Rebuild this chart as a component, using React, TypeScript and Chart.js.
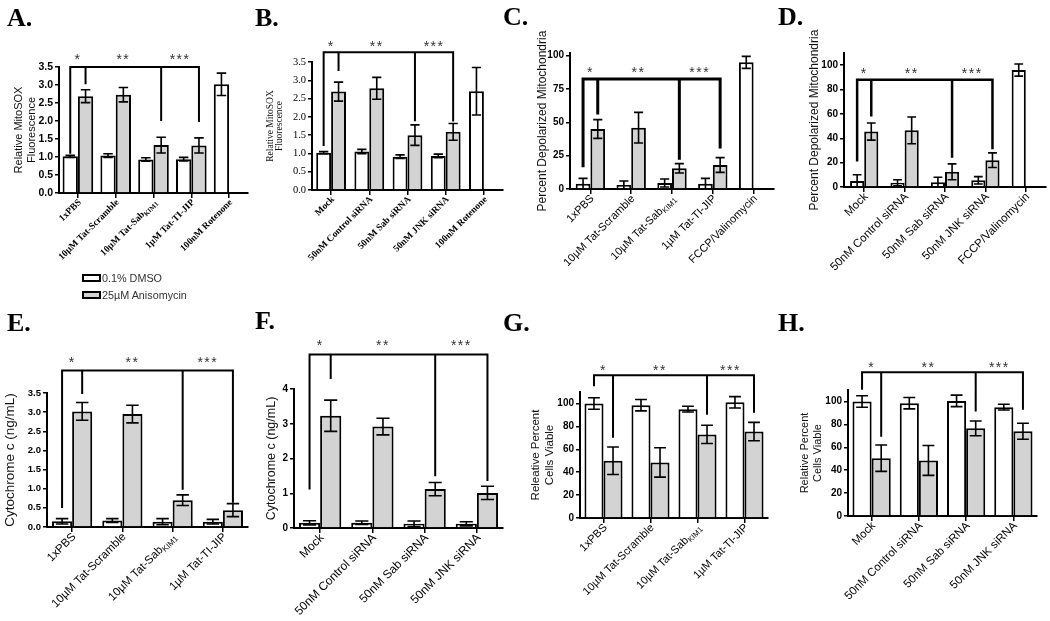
import { useEffect, useRef } from 'react';
import { Chart, registerables } from 'chart.js';

Chart.register(...registerables);

const SANS = '"Liberation Sans", Arial, Helvetica, sans-serif';
const SERIF = '"Liberation Serif", "Times New Roman", Times, serif';
const GREY = '#d3d3d3';

const seriesNames = ['0.1% DMSO', '25µM Anisomycin'];
const stars = ['*', '**', '***'];

// ---------- Panel A ----------
const catsA = ['1xPBS', '10µM Tat-Scramble', '10µM Tat-Sab_KIM1', '1µM Tat-TI-JIP', '100nM Rotenone'];
const dmsoA = [1.02, 1.04, 0.93, 0.94, 3.02];
const dmsoErrA = [0.03, 0.05, 0.05, 0.05, 0.31];
const anisoA = [2.69, 2.73, 1.33, 1.32, null];
const anisoErrA = [0.18, 0.2, 0.22, 0.21, null];
const sigA = [3.5, 3.75];
const dropsA = [1.12, 3.05, 2.03, 2.0];
const yTicksA = [0, 0.5, 1, 1.5, 2, 2.5, 3, 3.5];

// ---------- Panel B ----------
const catsB = ['Mock', '50nM Control siRNA', '50nM Sab siRNA', '50nM JNK siRNA', '100nM Rotenone'];
const dmsoB = [1.02, 1.05, 0.91, 0.93, 2.7];
const dmsoErrB = [0.03, 0.06, 0.05, 0.05, 0.65];
const anisoB = [2.69, 2.78, 1.5, 1.59, null];
const anisoErrB = [0.26, 0.3, 0.28, 0.23, null];
const sigB = [3.77, 3.96];
const dropsB = [1.23, 3.28, 1.91, 1.9];
const yTicksB = [0, 0.5, 1, 1.5, 2, 2.5, 3, 3.5];

// ---------- Panel C ----------
const catsC = ['1xPBS', '10µM Tat-Scramble', '10µM Tat-Sab_KIM1', '1µM Tat-TI-JIP', 'FCCP/Valinomycin'];
const dmsoC = [4, 3, 4.5, 4, 95];
const dmsoErrC = [4, 3, 3, 4, 4.5];
const anisoC = [45, 46, 15.5, 18, null];
const anisoErrC = [7, 11.5, 3.5, 5.5, null];
const sigC = [82.5, 88.5];
const dropsC = [17.5, 57, 23, 31.5];
const yTicksC = [0, 25, 50, 75, 100];

// ---------- Panel D ----------
const catsD = ['Mock', '50nM Control siRNA', '50nM Sab siRNA', '50nM JNK siRNA', 'FCCP/Valinomycin'];
const dmsoD = [5, 3.5, 4, 5.5, 96];
const dmsoErrD = [5, 2.5, 4, 3, 5];
const anisoD = [45.5, 46.5, 12.5, 22, null];
const anisoErrD = [7, 11, 6.5, 6, null];
const sigD = [88, 94];
const dropsD = [22, 59, 25, 32];
const yTicksD = [0, 20, 40, 60, 80, 100];

// ---------- Panel E ----------
const catsE = ['1xPBS', '10µM Tat-Scramble', '10µM Tat-Sab_KIM1', '1µM Tat-TI-JIP'];
const dmsoE = [0.15, 0.17, 0.14, 0.14];
const dmsoErrE = [0.07, 0.05, 0.08, 0.06];
const anisoE = [3.02, 2.95, 0.7, 0.44];
const anisoErrE = [0.23, 0.23, 0.14, 0.17];
const sigE = [4.09, 4.33];
const dropsE = [0.52, 3.5, 1.0, 0.66];
const yTicksE = [0, 0.5, 1, 1.5, 2, 2.5, 3, 3.5];

// ---------- Panel F ----------
const catsF = ['Mock', '50nM Control siRNA', '50nM Sab siRNA', '50nM JNK siRNA'];
const dmsoF = [0.15, 0.15, 0.12, 0.12];
const dmsoErrF = [0.06, 0.05, 0.08, 0.06];
const anisoF = [3.23, 2.92, 1.12, 1.01];
const anisoErrF = [0.45, 0.24, 0.19, 0.19];
const sigF = [4.99, 5.28];
const dropsF = [1.14, 4.32, 1.52, 1.38];
const yTicksF = [0, 1, 2, 3, 4];

// ---------- Panel G ----------
const catsG = ['1xPBS', '10µM Tat-Scramble', '10µM Tat-Sab_KIM1', '1µM Tat-TI-JIP'];
const dmsoG = [100, 98.5, 95, 101];
const dmsoErrG = [5, 5, 2.5, 5];
const anisoG = [50, 48.5, 73, 75.5];
const anisoErrG = [12, 12.8, 8, 8];
const sigG = [124.6, 130];
const dropsG = [116, 71, 91, 92.8];
const yTicksG = [0, 20, 40, 60, 80, 100];

// ---------- Panel H ----------
const catsH = ['Mock', '50nM Control siRNA', '50nM Sab siRNA', '50nM JNK siRNA'];
const dmsoH = [100, 98.5, 100.5, 95];
const dmsoErrH = [5, 5, 5, 2.5];
const anisoH = [50.5, 48.5, 76.5, 74];
const anisoErrH = [11.5, 13, 6.5, 7];
const sigH = [125.6, 130.5];
const dropsH = [111, 70, 92, 93.6];
const yTicksH = [0, 20, 40, 60, 80, 100];

type FontSpec = { family: string; size: number; weight?: string; lineHeight?: number };

type Panel = {
  letter: string;
  letterX: number;
  letterBase: number;
  cats: string[];
  dmso: (number | null)[];
  dmsoErr: (number | null)[];
  aniso: (number | null)[];
  anisoErr: (number | null)[];
  sig: number[];
  drops: number[];
  yTicks: number[];
  yMax: number;
  decimals: number;
  plot: [number, number, number, number];
  catPct: number;
  tickFont: FontSpec;
  titleLines: string[];
  titleFont: FontSpec;
  titleX: number;
  labelFont: FontSpec;
  bracketW: number;
};

const sansB = (size: number): FontSpec => ({ family: SANS, size, weight: 'bold' });
const sans = (size: number): FontSpec => ({ family: SANS, size, weight: 'normal' });

const panels: Panel[] = [
  {
    letter: 'A.', letterX: 7, letterBase: 27,
    cats: catsA, dmso: dmsoA, dmsoErr: dmsoErrA, aniso: anisoA, anisoErr: anisoErrA,
    sig: sigA, drops: dropsA, yTicks: yTicksA, yMax: 3.5, decimals: 1,
    plot: [59, 67, 248, 193], catPct: 0.81,
    tickFont: sansB(10.5), titleLines: ['Relative MitoSOX', 'Fluorescence'], titleFont: sans(11), titleX: 19,
    labelFont: { family: SERIF, size: 9.5, weight: 'bold' }, bracketW: 2,
  },
  {
    letter: 'B.', letterX: 255, letterBase: 27,
    cats: catsB, dmso: dmsoB, dmsoErr: dmsoErrB, aniso: anisoB, anisoErr: anisoErrB,
    sig: sigB, drops: dropsB, yTicks: yTicksB, yMax: 3.5, decimals: 1,
    plot: [312, 62, 503, 190], catPct: 0.78,
    tickFont: { family: SERIF, size: 10.5, weight: 'normal' },
    titleLines: ['Relative MitoSOX', 'Fluorescence'], titleFont: { family: SERIF, size: 9.5, weight: 'normal', lineHeight: 1.0 }, titleX: 270,
    labelFont: { family: SERIF, size: 9.5, weight: 'bold' }, bracketW: 2,
  },
  {
    letter: 'C.', letterX: 503, letterBase: 26,
    cats: catsC, dmso: dmsoC, dmsoErr: dmsoErrC, aniso: anisoC, anisoErr: anisoErrC,
    sig: sigC, drops: dropsC, yTicks: yTicksC, yMax: 102, decimals: 0,
    plot: [570, 53, 774, 189], catPct: 0.72,
    tickFont: sansB(10), titleLines: ['Percent Depolarized Mitochondria'], titleFont: sans(12), titleX: 543,
    labelFont: sans(11), bracketW: 3,
  },
  {
    letter: 'D.', letterX: 778, letterBase: 26,
    cats: catsD, dmso: dmsoD, dmsoErr: dmsoErrD, aniso: anisoD, anisoErr: anisoErrD,
    sig: sigD, drops: dropsD, yTicks: yTicksD, yMax: 110, decimals: 0,
    plot: [844, 52.5, 1046, 186.7], catPct: 0.7,
    tickFont: sansB(10), titleLines: ['Percent Depolarized Mitochondria'], titleFont: sans(12), titleX: 815,
    labelFont: sans(11.5), bracketW: 2.5,
  },
  {
    letter: 'E.', letterX: 7, letterBase: 332,
    cats: catsE, dmso: dmsoE, dmsoErr: dmsoErrE, aniso: anisoE, anisoErr: anisoErrE,
    sig: sigE, drops: dropsE, yTicks: yTicksE, yMax: 3.5, decimals: 1,
    plot: [47, 393, 248, 527], catPct: 0.8,
    tickFont: sansB(9.5), titleLines: ['Cytochrome c (ng/mL)'], titleFont: sans(13.5), titleX: 10,
    labelFont: sans(11.5), bracketW: 2,
  },
  {
    letter: 'F.', letterX: 255, letterBase: 330,
    cats: catsF, dmso: dmsoF, dmsoErr: dmsoErrF, aniso: anisoF, anisoErr: anisoErrF,
    sig: sigF, drops: dropsF, yTicks: yTicksF, yMax: 4, decimals: 0,
    plot: [294, 389, 503, 528], catPct: 0.81,
    tickFont: sansB(10), titleLines: ['Cytochrome c (ng/mL)'], titleFont: sans(12.5), titleX: 272,
    labelFont: sans(12), bracketW: 2,
  },
  {
    letter: 'G.', letterX: 503, letterBase: 332,
    cats: catsG, dmso: dmsoG, dmsoErr: dmsoErrG, aniso: anisoG, anisoErr: anisoErrG,
    sig: sigG, drops: dropsG, yTicks: yTicksG, yMax: 110, decimals: 0,
    plot: [580, 391.5, 768, 518], catPct: 0.81,
    tickFont: sansB(10), titleLines: ['Releative Percent', 'Cells Viable'], titleFont: sans(11.5), titleX: 536,
    labelFont: sans(11), bracketW: 2,
  },
  {
    letter: 'H.', letterX: 778, letterBase: 332,
    cats: catsH, dmso: dmsoH, dmsoErr: dmsoErrH, aniso: anisoH, anisoErr: anisoErrH,
    sig: sigH, drops: dropsH, yTicks: yTicksH, yMax: 110, decimals: 0,
    plot: [848, 389.5, 1037, 516], catPct: 0.81,
    tickFont: sansB(10), titleLines: ['Relative Percent', 'Cells Viable'], titleFont: sans(11), titleX: 805,
    labelFont: sans(11.5), bracketW: 2,
  },
];

function PanelChart({ p }: { p: Panel }) {
  const ref = useRef<HTMLCanvasElement>(null);
  const [L, T, R, B] = p.plot;
  const cl = Math.max(0, L - 75);
  const ct = T - 55;
  const cr = Math.min(1050, R + 12);
  const cb = B + 125;
  const lh = p.titleFont.size * (p.titleFont.lineHeight ?? 1.2);

  useEffect(() => {
    const errs = [p.dmsoErr, p.anisoErr];

    const errPlugin = {
      id: 'errbars',
      afterDatasetsDraw(chart: any) {
        const ctx = chart.ctx;
        const y = chart.scales.y;
        ctx.save();
        ctx.strokeStyle = '#000';
        ctx.lineWidth = 1.6;
        chart.data.datasets.forEach((ds: any, d: number) => {
          const meta = chart.getDatasetMeta(d);
          meta.data.forEach((el: any, i: number) => {
            const v = ds.data[i];
            const e = errs[d][i];
            if (v == null || e == null) return;
            const x = el.x;
            const half = (el.width * 0.62) / 2;
            const yt = y.getPixelForValue(v + e);
            const yb = y.getPixelForValue(Math.max(0, v - e));
            ctx.beginPath();
            ctx.moveTo(x, yt);
            ctx.lineTo(x, yb);
            ctx.moveTo(x - half, yt);
            ctx.lineTo(x + half, yt);
            ctx.moveTo(x - half, yb);
            ctx.lineTo(x + half, yb);
            ctx.stroke();
          });
        });
        ctx.restore();
      },
    };

    const sigPlugin = {
      id: 'sig',
      afterDatasetsDraw(chart: any) {
        const ctx = chart.ctx;
        const y = chart.scales.y;
        const m0 = chart.getDatasetMeta(0).data;
        const m1 = chart.getDatasetMeta(1).data;
        const xs = [m0[0].x, m1[0].x, m1[2].x, m1[3].x];
        const yl = y.getPixelForValue(p.sig[0]);
        const ys = y.getPixelForValue(p.sig[1]);
        ctx.save();
        ctx.strokeStyle = '#000';
        ctx.lineWidth = p.bracketW;
        ctx.lineCap = 'square';
        ctx.beginPath();
        ctx.moveTo(xs[0], yl);
        ctx.lineTo(xs[3], yl);
        xs.forEach((x: number, k: number) => {
          ctx.moveTo(x, yl);
          ctx.lineTo(x, y.getPixelForValue(p.drops[k]));
        });
        ctx.stroke();
        ctx.fillStyle = '#333';
        ctx.font = `14px ${SANS}`;
        (ctx as any).letterSpacing = '1.5px';
        ctx.textAlign = 'center';
        ctx.textBaseline = 'middle';
        stars.forEach((s, k) => {
          ctx.fillText(s, (xs[k] + xs[k + 1]) / 2, ys + 2);
        });
        ctx.restore();
      },
    };

    const labelPlugin = {
      id: 'xlabels',
      afterDraw(chart: any) {
        const ctx = chart.ctx;
        const xs = chart.scales.x;
        const b = chart.chartArea.bottom;
        const lf = p.labelFont;
        const f = `${lf.weight ?? 'normal'} ${lf.size}px ${lf.family}`;
        const fs = `${lf.weight ?? 'normal'} ${lf.size * 0.7}px ${lf.family}`;
        p.cats.forEach((lab, i) => {
          const x = xs.getPixelForValue(i);
          const parts = lab.split('_');
          const main = parts[0];
          const sub = parts[1];
          ctx.save();
          ctx.translate(x + 2, b + 8);
          ctx.rotate(-Math.PI / 4);
          ctx.font = f;
          const w1 = ctx.measureText(main).width;
          let w2 = 0;
          if (sub) {
            ctx.font = fs;
            w2 = ctx.measureText(sub).width;
          }
          ctx.textBaseline = 'middle';
          ctx.textAlign = 'left';
          ctx.fillStyle = '#000';
          ctx.font = f;
          ctx.fillText(main, -(w1 + w2), 0);
          if (sub) {
            ctx.font = fs;
            ctx.fillText(sub, -w2, lf.size * 0.3);
          }
          ctx.restore();
        });
      },
    };

    const chart = new Chart(ref.current as HTMLCanvasElement, {
      type: 'bar',
      data: {
        labels: p.cats,
        datasets: [
          {
            label: seriesNames[0],
            data: p.dmso as any,
            backgroundColor: '#ffffff',
            borderColor: '#000',
            borderWidth: 2,
            categoryPercentage: p.catPct,
            barPercentage: 1,
          },
          {
            label: seriesNames[1],
            data: p.aniso as any,
            backgroundColor: GREY,
            borderColor: '#000',
            borderWidth: 2,
            categoryPercentage: p.catPct,
            barPercentage: 1,
          },
        ],
      },
      options: {
        responsive: false,
        animation: false,
        devicePixelRatio: 1,
        layout: { padding: { left: 0, top: T - ct, right: cr - R, bottom: 0 } },
        plugins: { legend: { display: false }, tooltip: { enabled: false } },
        scales: {
          x: {
            grid: {
              display: true,
              drawOnChartArea: false,
              drawTicks: true,
              tickLength: 5,
              offset: false,
              color: '#000',
              lineWidth: 1.5,
            },
            border: { display: true, color: '#000', width: 2 },
            ticks: { display: false },
            afterFit: (s: any) => {
              s.height = cb - B;
            },
          },
          y: {
            min: 0,
            max: p.yMax,
            afterBuildTicks: (s: any) => {
              s.ticks = p.yTicks.map((v) => ({ value: v }));
            },
            ticks: {
              font: p.tickFont as any,
              color: '#000',
              padding: 2,
              callback: (v: any) => Number(v).toFixed(p.decimals),
            },
            grid: {
              display: true,
              drawOnChartArea: false,
              drawTicks: true,
              tickLength: 4,
              color: '#000',
              lineWidth: 1.5,
            },
            border: { display: true, color: '#000', width: 2 },
            title: {
              display: true,
              text: p.titleLines,
              font: p.titleFont as any,
              color: '#111',
              padding: { top: p.titleX - cl - lh / 2, bottom: 0 },
            },
            afterFit: (s: any) => {
              s.width = L - cl;
            },
          },
        },
      } as any,
      plugins: [errPlugin, sigPlugin, labelPlugin],
    });
    return () => chart.destroy();
  }, []);

  return (
    <canvas
      ref={ref}
      width={cr - cl}
      height={cb - ct}
      style={{ position: 'absolute', left: cl, top: ct, width: cr - cl, height: cb - ct }}
    />
  );
}

const LETTER_SIZE = 26;

export default function App() {
  return (
    <div
      style={{
        position: 'absolute',
        left: 0,
        top: 0,
        width: 1050,
        height: 621,
        background: '#fff',
        overflow: 'hidden',
      }}
    >
      {panels.map((p) => (
        <PanelChart key={p.letter} p={p} />
      ))}
      {panels.map((p) => (
        <div
          key={'l' + p.letter}
          style={{
            position: 'absolute',
            left: p.letterX,
            top: p.letterBase - LETTER_SIZE * 0.8375,
            font: `bold ${LETTER_SIZE}px ${SERIF}`,
            lineHeight: 1,
            color: '#000',
            whiteSpace: 'nowrap',
          }}
        >
          {p.letter}
        </div>
      ))}
      {seriesNames.map((name, i) => (
        <div key={name}>
          <div
            style={{
              position: 'absolute',
              left: 82,
              top: 274 + i * 17,
              width: 15,
              height: 4,
              border: '2px solid #000',
              background: i === 0 ? '#fff' : GREY,
            }}
          />
          <div
            style={{
              position: 'absolute',
              left: 102,
              top: 277.5 + i * 17 - 7,
              font: `10.8px ${SANS}`,
              lineHeight: '14px',
              color: '#333',
              whiteSpace: 'nowrap',
            }}
          >
            {name}
          </div>
        </div>
      ))}
    </div>
  );
}
